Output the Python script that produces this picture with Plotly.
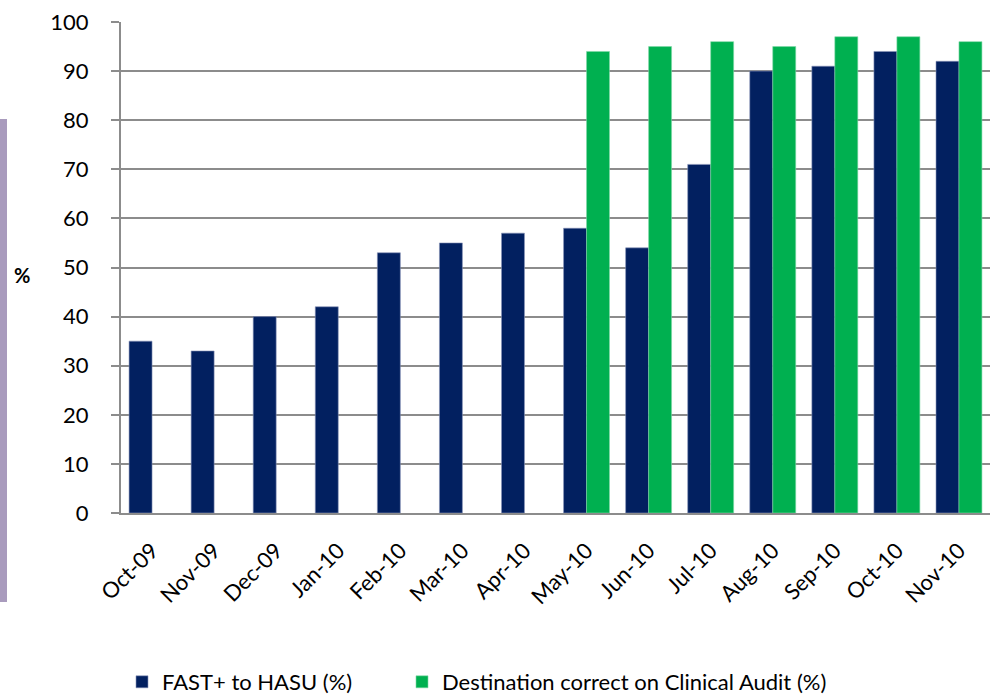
import plotly.graph_objects as go

months = ["Oct-09", "Nov-09", "Dec-09", "Jan-10", "Feb-10", "Mar-10", "Apr-10",
          "May-10", "Jun-10", "Jul-10", "Aug-10", "Sep-10", "Oct-10", "Nov-10"]
fast_hasu = [35, 33, 40, 42, 53, 55, 57, 58, 54, 71, 90, 91, 94, 92]
destination_correct = [None, None, None, None, None, None, None,
                       94, 95, 96, 95, 97, 97, 96]
y_ticks = [0, 10, 20, 30, 40, 50, 60, 70, 80, 90, 100]

W, H = 994, 697
L, R, T, B = 121, 4, 22, 184
pw, ph = W - L - R, H - T - B

def px_x(p):
    return (p - L) / pw

def px_y(p):
    return (H - B - p) / ph

font = "Lato, 'Open Sans', sans-serif"

fig = go.Figure()
fig.add_trace(go.Bar(
    x=months, y=fast_hasu, name="FAST+ to HASU (%)", legend="legend",
    marker=dict(color="#022060", line=dict(color="#8a94b8", width=0.6)),
))
fig.add_trace(go.Bar(
    x=months, y=destination_correct, name="Destination correct on Clinical Audit (%)",
    legend="legend2",
    marker=dict(color="#00B050", line=dict(color="#7fd8a6", width=0.6)),
))

leg_common = dict(orientation="h", y=px_y(682), xanchor="left", yanchor="middle",
                  font=dict(size=22), itemwidth=30, bgcolor="rgba(0,0,0,0)")

fig.update_layout(
    width=W, height=H,
    margin=dict(l=L, r=R, t=T, b=B, pad=0, autoexpand=False),
    paper_bgcolor="white", plot_bgcolor="white",
    barmode="group", bargap=0.26, bargroupgap=0,
    font=dict(family=font, size=22, color="#000000"),
    showlegend=True,
    legend=dict(x=px_x(122), **leg_common),
    legend2=dict(x=px_x(402), **leg_common),
    xaxis=dict(
        type="category", tickangle=-45, showgrid=False, automargin=False,
        showline=True, linecolor="#8c8c8c", linewidth=2,
        ticks="", ticklabelstandoff=14, tickfont=dict(size=22),
    ),
    yaxis=dict(
        range=[0, 100], tickvals=y_ticks, ticktext=[str(v) for v in y_ticks],
        automargin=False,
        showgrid=True, gridcolor="#8c8c8c", gridwidth=2,
        showline=True, linecolor="#8c8c8c", linewidth=2,
        ticks="outside", ticklen=8, tickcolor="#8c8c8c", tickwidth=2,
        ticklabelstandoff=18,
        tickfont=dict(size=22), zeroline=False,
    ),
    shapes=[dict(type="rect", xref="paper", yref="paper",
                 x0=px_x(0), x1=px_x(7), y0=px_y(602), y1=px_y(119),
                 fillcolor="#A99BBD", line=dict(width=0), layer="above")],
    annotations=[dict(text="<b>%</b>", xref="paper", yref="paper",
                      x=px_x(22), y=px_y(275), xanchor="center", yanchor="middle",
                      showarrow=False, font=dict(size=20))],
)

fig.write_html("out.html", config={"displayModeBar": False},
               post_script="document.body.style.margin='0';document.body.style.overflow='hidden';")
